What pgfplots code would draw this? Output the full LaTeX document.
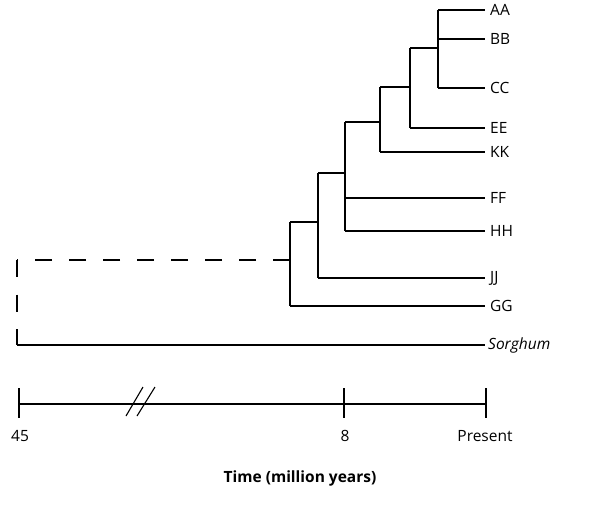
\documentclass[border=0pt]{standalone}
\usepackage{pgfplots}
\pgfplotsset{compat=1.18}
\usepackage{fontspec}
\setmainfont{Open Sans}
\begin{document}
\begin{tikzpicture}
\begin{axis}[
  x=1pt, y=1pt, y dir=reverse,
  xmin=0, xmax=600, ymin=0, ymax=508,
  hide axis, clip=false, scale only axis,
  tl/.style={black, solid, line width=1.4pt, mark=none},
]
\path (axis cs:0,0) rectangle (axis cs:600,508);
% leaves
\addplot[tl] coordinates {(438,10) (485,10)};
\addplot[tl] coordinates {(438,39) (485,39)};
\addplot[tl] coordinates {(438,88) (485,88)};
\addplot[tl] coordinates {(410,128) (485,128)};
\addplot[tl] coordinates {(380,152) (485,152)};
\addplot[tl] coordinates {(345,198) (485,198)};
\addplot[tl] coordinates {(345,231) (485,231)};
\addplot[tl] coordinates {(318,278) (485,278)};
\addplot[tl] coordinates {(290,306) (485,306)};
\addplot[tl] coordinates {(17,345) (485,345)};
% internal nodes
\addplot[tl] coordinates {(438,10) (438,88)};
\addplot[tl] coordinates {(410,48) (438,48)};
\addplot[tl] coordinates {(410,48) (410,128)};
\addplot[tl] coordinates {(380,87) (410,87)};
\addplot[tl] coordinates {(380,87) (380,152)};
\addplot[tl] coordinates {(345,122) (380,122)};
\addplot[tl] coordinates {(345,122) (345,231)};
\addplot[tl] coordinates {(318,173) (345,173)};
\addplot[tl] coordinates {(318,173) (318,278)};
\addplot[tl] coordinates {(290,222) (318,222)};
\addplot[tl] coordinates {(290,222) (290,306)};
% dashed root
\addplot[tl, dash pattern=on 17pt off 17pt] coordinates {(290,260) (17,260)};
\addplot[tl, dash pattern=on 17pt off 17.5pt] coordinates {(17,260) (17,345)};
% timeline
\addplot[tl] coordinates {(19,404) (486,404)};
\addplot[tl] coordinates {(19,388) (19,418)};
\addplot[tl] coordinates {(344,388) (344,418)};
\addplot[tl] coordinates {(486,388) (486,418)};
\addplot[tl, line width=1.1pt] coordinates {(126,416) (143,387)};
\addplot[tl, line width=1.1pt] coordinates {(137,416) (155,387)};
% labels
\begin{scope}[font=\fontsize{15.5}{18}\selectfont]
\node[anchor=west, inner sep=0pt] at (axis cs:490,10) {AA};
\node[anchor=west, inner sep=0pt] at (axis cs:490,39) {BB};
\node[anchor=west, inner sep=0pt] at (axis cs:490,88) {CC};
\node[anchor=west, inner sep=0pt] at (axis cs:490,128) {EE};
\node[anchor=west, inner sep=0pt] at (axis cs:490,152) {KK};
\node[anchor=west, inner sep=0pt] at (axis cs:490,198) {FF};
\node[anchor=west, inner sep=0pt] at (axis cs:490,231) {HH};
\node[anchor=west, inner sep=0pt] at (axis cs:490,278) {JJ};
\node[anchor=west, inner sep=0pt] at (axis cs:490,306) {GG};
\node[anchor=west, inner sep=0pt] at (axis cs:488,345) {\itshape Sorghum};
\node[inner sep=0pt] at (axis cs:20,436) {45};
\node[inner sep=0pt] at (axis cs:345,436) {8};
\node[inner sep=0pt] at (axis cs:485,436) {Present};
\node[inner sep=0pt] at (axis cs:300,478) {\bfseries Time (million years)};
\end{scope}
\end{axis}
\end{tikzpicture}
\end{document}
